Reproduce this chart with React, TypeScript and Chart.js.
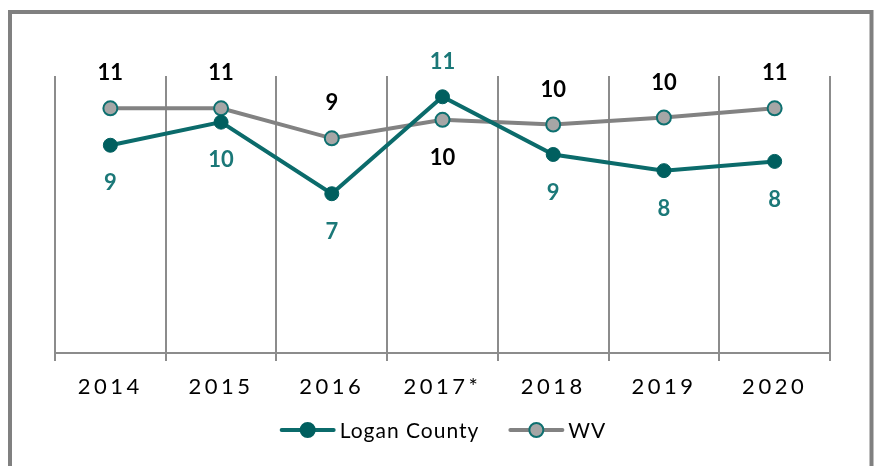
import React, { useEffect, useRef } from "react";
import { Chart, registerables } from "chart.js";

Chart.register(...registerables);

const categories = ["2014", "2015", "2016", "2017*", "2018", "2019", "2020"];
const loganValues = [9.0, 10.0, 6.9, 11.1, 8.6, 7.9, 8.3];
const wvValues = [10.6, 10.6, 9.3, 10.1, 9.9, 10.2, 10.6];
const seriesNames = ["Logan County", "WV"];
const yMin = 0;
const yMax = 12;

const FONT = "Lato, 'Open Sans', sans-serif";
const TEAL_LINE = "#0b6b6b";
const TEAL_POINT = "#005f5f";
const TEAL_LABEL = "#1b7878";
const GRAY_LINE = "#828282";
const GRAY_POINT = "#a6a6a6";
const GRID = "#8c8c8c";

const framePlugin = {
  id: "frame",
  beforeDraw(chart: any) {
    const ctx = chart.ctx;
    ctx.save();
    ctx.strokeStyle = "#808080";
    ctx.lineWidth = 4;
    ctx.strokeRect(10, 12, 861.5, 520);
    ctx.restore();
    ctx.letterSpacing = "3.5px";
  },
  beforeDatasetsDraw(chart: any) {
    chart.ctx.letterSpacing = "0px";
  },
};

const labelPlugin = {
  id: "pointLabels",
  afterDatasetsDraw(chart: any) {
    const ctx = chart.ctx;
    ctx.save();
    ctx.letterSpacing = "0px";
    ctx.font = `bold 22px ${FONT}`;
    ctx.textAlign = "center";
    ctx.textBaseline = "middle";
    const sets = chart.data.datasets;
    sets.forEach((ds: any, di: number) => {
      const meta = chart.getDatasetMeta(di);
      const other = sets[1 - di].data;
      meta.data.forEach((pt: any, i: number) => {
        const v = ds.data[i];
        const above = v > other[i];
        ctx.fillStyle = di === 0 ? TEAL_LABEL : "#000000";
        ctx.fillText(String(Math.round(v)), pt.x, above ? pt.y - 35 : pt.y + 38);
      });
    });
    ctx.restore();
  },
};

const legendPlugin = {
  id: "customLegend",
  afterDraw(chart: any) {
    const ctx = chart.ctx;
    ctx.save();
    ctx.font = `21px ${FONT}`;
    ctx.letterSpacing = "1px";
    ctx.textBaseline = "middle";
    ctx.textAlign = "left";
    const markerW = 54;
    const gapText = 5;
    const gapItem = 30;
    const widths = seriesNames.map((n) => ctx.measureText(n).width);
    const total =
      widths.reduce((a: number, b: number) => a + b, 0) +
      seriesNames.length * (markerW + gapText) +
      gapItem * (seriesNames.length - 1);
    const ca = chart.chartArea;
    let x = (ca.left + ca.right) / 2 - total / 2 + 1;
    const y = 430;
    seriesNames.forEach((name, i) => {
      const lineColor = i === 0 ? TEAL_LINE : GRAY_LINE;
      ctx.strokeStyle = lineColor;
      ctx.lineWidth = 4;
      ctx.lineCap = "round";
      ctx.beginPath();
      ctx.moveTo(x + 1, y);
      ctx.lineTo(x + markerW - 1, y);
      ctx.stroke();
      ctx.beginPath();
      ctx.arc(x + markerW / 2, y, 7, 0, Math.PI * 2);
      ctx.fillStyle = i === 0 ? TEAL_POINT : GRAY_POINT;
      ctx.fill();
      ctx.lineWidth = 2;
      ctx.strokeStyle = i === 0 ? TEAL_POINT : "#0e7070";
      ctx.stroke();
      ctx.fillStyle = "#000000";
      ctx.fillText(name, x + markerW + gapText, y + 1);
      x += markerW + gapText + widths[i] + gapItem;
    });
    ctx.restore();
  },
};

export default function App() {
  const ref = useRef<HTMLCanvasElement>(null);
  useEffect(() => {
    if (!ref.current) return;
    const chart = new Chart(ref.current, {
      type: "line",
      data: {
        labels: categories,
        datasets: [
          {
            label: seriesNames[0],
            data: loganValues,
            borderColor: TEAL_LINE,
            borderWidth: 4,
            pointRadius: 7,
            pointBackgroundColor: TEAL_POINT,
            pointBorderColor: TEAL_POINT,
            pointBorderWidth: 1,
            tension: 0,
          },
          {
            label: seriesNames[1],
            data: wvValues,
            borderColor: GRAY_LINE,
            borderWidth: 4,
            pointRadius: 7,
            pointBackgroundColor: GRAY_POINT,
            pointBorderColor: "#0e7070",
            pointBorderWidth: 2,
            tension: 0,
          },
        ],
      },
      options: {
        animation: false,
        responsive: false,
        devicePixelRatio: 1,
        layout: { padding: { left: 55, right: 44, top: 76, bottom: 0 } },
        plugins: {
          legend: { display: false },
          tooltip: { enabled: false },
        },
        scales: {
          x: {
            offset: true,
            grid: {
              offset: true,
              color: GRID,
              lineWidth: 2,
              tickLength: 8,
              drawTicks: true,
            },
            border: { display: true, color: GRID, width: 2 },
            ticks: {
              color: "#000000",
              font: { family: FONT, size: 22 },
              padding: 13,
              maxRotation: 0,
              autoSkip: false,
            },
            afterFit: (s: any) => {
              s.height = 113;
            },
          },
          y: {
            display: false,
            min: yMin,
            max: yMax,
          },
        },
      },
      plugins: [framePlugin, labelPlugin, legendPlugin],
    });
    return () => chart.destroy();
  }, []);
  return (
    <div style={{ position: "fixed", left: 0, top: 0, width: 874, height: 466, background: "#ffffff" }}>
      <canvas ref={ref} width={874} height={466} style={{ display: "block" }} />
    </div>
  );
}
